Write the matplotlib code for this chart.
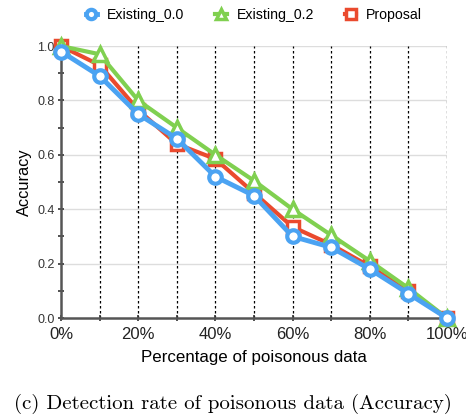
import matplotlib
matplotlib.use("Agg")
import matplotlib.pyplot as plt
from matplotlib.ticker import MultipleLocator, FuncFormatter

x_pct = [0, 10, 20, 30, 40, 50, 60, 70, 80, 90, 100]
existing_00 = [0.98, 0.89, 0.75, 0.66, 0.52, 0.45, 0.30, 0.26, 0.18, 0.09, 0.0]
existing_02 = [1.0, 0.97, 0.80, 0.70, 0.60, 0.505, 0.40, 0.305, 0.21, 0.11, 0.0]
proposal = [1.0, 0.93, 0.765, 0.64, 0.585, 0.46, 0.335, 0.27, 0.19, 0.10, 0.0]

plt.rcParams['font.family'] = ['Liberation Sans', 'DejaVu Sans']
fig = plt.figure(figsize=(4.66, 4.19), dpi=100)
ax = fig.add_axes([0.131, 0.241, 0.828, 0.649])

c_blue = '#4BA3F2'
c_green = '#80D050'
c_red = '#EA4A2E'

ax.plot(x_pct, proposal, color=c_red, lw=3, marker='s', ms=9, mfc='white',
        mec=c_red, mew=2.5, label='Proposal', clip_on=False, zorder=3)
ax.plot(x_pct, existing_02, color=c_green, lw=3, marker='^', ms=10, mfc='white',
        mec=c_green, mew=2.5, label='Existing_0.2', clip_on=False, zorder=4)
ax.plot(x_pct, existing_00, color=c_blue, lw=3.5, marker='o', ms=9, mfc='white',
        mec=c_blue, mew=3, label='Existing_0.0', clip_on=False, zorder=5)

ax.set_xlim(0, 100)
ax.set_ylim(0, 1.0)
ax.xaxis.set_major_locator(MultipleLocator(20))
ax.xaxis.set_minor_locator(MultipleLocator(10))
ax.yaxis.set_major_locator(MultipleLocator(0.2))
ax.yaxis.set_minor_locator(MultipleLocator(0.1))
ax.xaxis.set_major_formatter(FuncFormatter(lambda v, p: f"{int(round(v))}%"))
ax.yaxis.set_major_formatter(FuncFormatter(lambda v, p: f"{v:.1f}"))

for v in x_pct[1:]:
    ax.axvline(v, color='black', lw=0.9, ls=(0, (2, 2)), zorder=1)
for v in [0.2, 0.4, 0.6, 0.8, 1.0]:
    ax.axhline(v, color='#dddddd', lw=1, zorder=0)

for s in ['top', 'right']:
    ax.spines[s].set_visible(False)
for s in ['left', 'bottom']:
    ax.spines[s].set_color('#555555')
    ax.spines[s].set_linewidth(1.8)

ax.tick_params(axis='y', which='both', direction='inout', length=5, width=1.2,
               color='#333333', labelsize=9, labelcolor='#333333', pad=2)
ax.tick_params(axis='x', which='both', direction='inout', length=5, width=1.2,
               color='#333333', labelsize=12, labelcolor='#222222', pad=4)

ax.set_xlabel('Percentage of poisonous data', fontsize=12.2, labelpad=6)
ax.set_ylabel('Accuracy', fontsize=11.8, labelpad=4)

handles, labels = ax.get_legend_handles_labels()
order = [2, 1, 0]
fig.legend([handles[i] for i in order], [labels[i] for i in order],
           loc='center', bbox_to_anchor=(0.545, 0.965), ncol=3, frameon=False,
           fontsize=10.2, handlelength=0.8, handletextpad=0.7, columnspacing=2.2,
           markerscale=0.75)

fig.text(0.5, 0.036, '(c) Detection rate of poisonous data (Accuracy)',
         ha='center', va='center', fontsize=15, family=['cmr10', 'DejaVu Serif'])

fig.savefig('out.png', dpi=100)
